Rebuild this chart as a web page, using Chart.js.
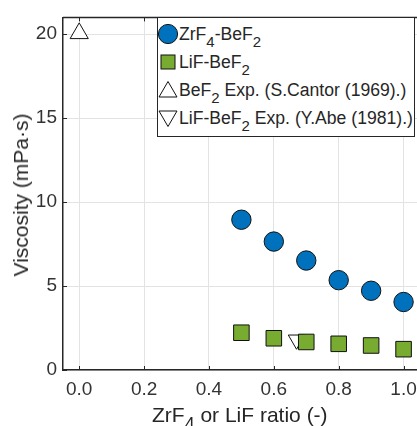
<!DOCTYPE html>
<html>
<head>
<meta charset="utf-8">
<script src="https://cdn.jsdelivr.net/npm/chart.js@4"></script>
<style>
  body { margin: 0; overflow: hidden; background: #fff; font-family: 'Liberation Sans', Arial, sans-serif; color: #262626; }
  #wrap { position: relative; width: 425px; height: 426px; }
  #chart { display: block; }
  #legend { position: absolute; left: 157px; top: 17px; width: 258px; height: 120px; border: 1px solid #262626; background: #fff; box-sizing: border-box; font-size: 17.6px; }
  .row { position: absolute; left: 0; height: 28px; display: flex; align-items: center; white-space: nowrap; }
  .row svg { width: 22px; height: 22px; margin-left: -1px; margin-right: 0px; }
  sub { font-size: 0.85em; vertical-align: -0.45em; line-height: 0; }
  #xtitle { position: absolute; left: 152px; top: 403px; font-size: 21px; white-space: nowrap; }
  #ytitle { position: absolute; left: 21px; top: 195px; font-size: 21px; white-space: nowrap; transform: translate(-50%, -50%) rotate(-90deg); }
</style>
</head>
<body>
<div id="wrap">
  <canvas id="chart" width="425" height="426"></canvas>
  <div id="ytitle">Viscosity (mPa·s)</div>
  <div id="xtitle">ZrF<sub>4</sub> or LiF ratio (-)</div>
  <div id="legend"></div>
</div>
<script>
// Data
const ratios = [0.5, 0.6, 0.7, 0.8, 0.9, 1.0];
const zrf4Visc = [8.95, 7.65, 6.52, 5.35, 4.72, 4.05];
const lifVisc = [2.22, 1.89, 1.67, 1.56, 1.46, 1.24];
const cantorX = [0.0];
const cantorY = [20.05];
const abeX = [0.67];
const abeY = [1.8];
const xTicks = [0.0, 0.2, 0.4, 0.6, 0.8, 1.0];
const yTicks = [0, 5, 10, 15, 20];
const legendLabels = [
  'ZrF<sub>4</sub>-BeF<sub>2</sub>',
  'LiF-BeF<sub>2</sub>',
  'BeF<sub>2</sub> Exp. (S.Cantor (1969).)',
  'LiF-BeF<sub>2</sub> Exp. (Y.Abe (1981).)'
];

const blue = '#0072BD';
const green = '#77AC30';
const ink = '#262626';

const toPts = (xs, ys) => xs.map((x, i) => ({ x: x, y: ys[i] }));

// inward tick marks + top spine, MATLAB style
const boxTicks = {
  id: 'boxTicks',
  afterDraw(chart) {
    const { ctx, chartArea: a, scales } = chart;
    ctx.save();
    ctx.strokeStyle = ink;
    ctx.lineWidth = 1;
    ctx.beginPath();
    xTicks.forEach(v => {
      const px = Math.round(scales.x.getPixelForValue(v)) + 0.5;
      ctx.moveTo(px, a.bottom); ctx.lineTo(px, a.bottom - 4);
      ctx.moveTo(px, a.top); ctx.lineTo(px, a.top + 4);
    });
    yTicks.forEach(v => {
      const py = Math.round(scales.y.getPixelForValue(v)) + 0.5;
      ctx.moveTo(a.left, py); ctx.lineTo(a.left + 4, py);
    });
    ctx.stroke();
    ctx.lineWidth = 1.5;
    ctx.beginPath();
    ctx.moveTo(a.left, a.top); ctx.lineTo(a.right + 5, a.top);
    ctx.stroke();
    ctx.restore();
  }
};

new Chart(document.getElementById('chart'), {
  type: 'scatter',
  data: {
    datasets: [
      { label: 'ZrF4-BeF2', data: toPts(ratios, zrf4Visc), pointStyle: 'circle', pointRadius: 9.7,
        backgroundColor: blue, borderColor: '#111', borderWidth: 1 },
      { label: 'LiF-BeF2', data: toPts(ratios, lifVisc), pointStyle: 'rect', pointRadius: 11,
        backgroundColor: green, borderColor: '#111', borderWidth: 1 },
      { label: 'BeF2 Exp. (S.Cantor (1969).)', data: toPts(cantorX, cantorY), pointStyle: 'triangle', pointRadius: 10.5,
        backgroundColor: '#fff', borderColor: '#111', borderWidth: 1 },
      { label: 'LiF-BeF2 Exp. (Y.Abe (1981).)', data: toPts(abeX, abeY), pointStyle: 'triangle', rotation: 180, pointRadius: 9.5,
        backgroundColor: '#fff', borderColor: '#111', borderWidth: 1 }
    ]
  },
  options: {
    responsive: false,
    animation: false,
    layout: { autoPadding: false, padding: { top: 12, right: 5, left: 0, bottom: 0 } },
    plugins: { legend: { display: false }, tooltip: { enabled: false } },
    scales: {
      x: {
        type: 'linear', min: -0.05, max: 1.05,
        afterFit(s) { s.height = 56; },
        afterBuildTicks(s) { s.ticks = xTicks.map(v => ({ value: v })); },
        ticks: { callback: v => v.toFixed(1), color: '#333', padding: 8, maxRotation: 0,
          font: { family: 'Liberation Sans', size: 19 } },
        grid: { color: '#e3e3e3', lineWidth: 1, drawTicks: false },
        border: { color: ink, width: 1.5 }
      },
      y: {
        type: 'linear', min: 0, max: 21,
        afterFit(s) { s.width = 63; },
        afterBuildTicks(s) { s.ticks = yTicks.map(v => ({ value: v })); },
        ticks: { color: '#333', padding: 6, font: { family: 'Liberation Sans', size: 19 } },
        grid: { color: '#e3e3e3', lineWidth: 1, drawTicks: false },
        border: { color: ink, width: 1.5 }
      }
    }
  },
  plugins: [boxTicks]
});

// legend markers as small svgs
const markers = [
  '<svg viewBox="0 0 22 22"><circle cx="11" cy="11" r="9.6" fill="' + blue + '" stroke="#111" stroke-width="1"/></svg>',
  '<svg viewBox="0 0 22 22"><rect x="4" y="4" width="14" height="14" fill="' + green + '" stroke="#111" stroke-width="1"/></svg>',
  '<svg viewBox="0 0 22 22"><polygon points="11,2.5 20,18 2,18" fill="#fff" stroke="#111" stroke-width="1"/></svg>',
  '<svg viewBox="0 0 22 22"><polygon points="2,4 20,4 11,19.5" fill="#fff" stroke="#111" stroke-width="1"/></svg>'
];
const legend = document.getElementById('legend');
legendLabels.forEach((txt, i) => {
  const row = document.createElement('div');
  row.className = 'row';
  row.style.top = (2 + i * 28) + 'px';
  row.innerHTML = markers[i] + '<span>' + txt + '</span>';
  legend.appendChild(row);
});
</script>
</body>
</html>
